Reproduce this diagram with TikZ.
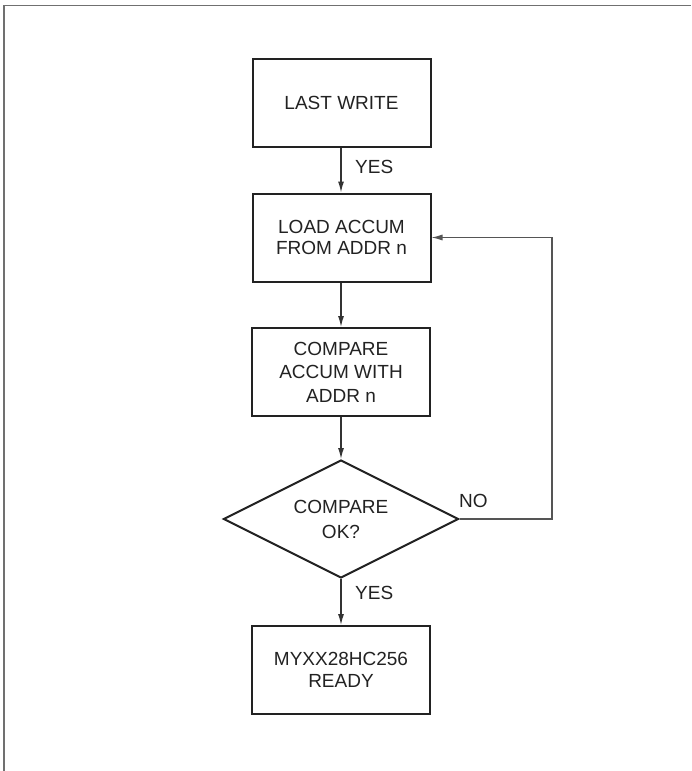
\documentclass[tikz,border=0pt]{standalone}
\usepackage{fontspec}
\setmainfont{Liberation Sans}
\usetikzlibrary{shapes.geometric,arrows.meta}
\definecolor{ink}{HTML}{222222}
\definecolor{wire}{HTML}{333333}
\definecolor{loopc}{HTML}{555555}
\definecolor{framec}{HTML}{707070}
\tikzset{
  stepbox/.style={draw=ink, line width=2pt, minimum width=178pt, minimum height=88pt,
    inner sep=0pt, align=center, text=ink, font=\fontsize{19}{21.5}\selectfont},
  decision/.style={diamond, draw=ink, line width=2pt, minimum width=235pt, minimum height=118pt,
    inner sep=0pt, aspect=2, align=center, text=ink, font=\fontsize{19}{25}\selectfont},
  flow/.style={draw=wire, line width=1.3pt, -{Latex[length=11pt,width=6pt]}},
  lbl/.style={text=ink, font=\fontsize{19}{22}\selectfont, inner sep=0pt}
}
\begin{document}
\begin{tikzpicture}[x=1pt,y=-1pt]
\useasboundingbox (0,0) rectangle (691,771);
\draw[framec, line width=1.6pt] (4,771) -- (4,5.5) -- (691,5.5);
\node[stepbox] (w) at (341.5,103) {LAST WRITE};
\node[stepbox] (l) at (341.5,237.5) {LOAD ACCUM\\FROM ADDR n};
\node[stepbox, font=\fontsize{19}{23.5}\selectfont] (c) at (341,372) {COMPARE\\ACCUM WITH\\ADDR n};
\node[decision] (d) at (341,519) {COMPARE\\OK?};
\node[stepbox] (r) at (341,670) {MYXX28HC256\\READY};
\coordinate (k1) at (552,519);
\coordinate (k2) at (552,237.5);
\draw[flow] (w.south -| c.center) -- (l.north -| c.center);
\draw[flow] (l.south -| c.center) -- (c.north);
\draw[flow] (c.south) -- (d.north);
\draw[flow] (d.south) -- (r.north);
\draw[draw=loopc, line width=1.1pt, -{Latex[length=11pt,width=6pt]}] (d.east) -- (k1) -- (k2) -- (l.east);
\node[lbl, anchor=west] (y1) at (355,167) {YES};
\node[lbl, anchor=west] (y2) at (355,593) {YES};
\node[lbl, anchor=west] (n1) at (459,501) {NO};
\end{tikzpicture}
\end{document}
